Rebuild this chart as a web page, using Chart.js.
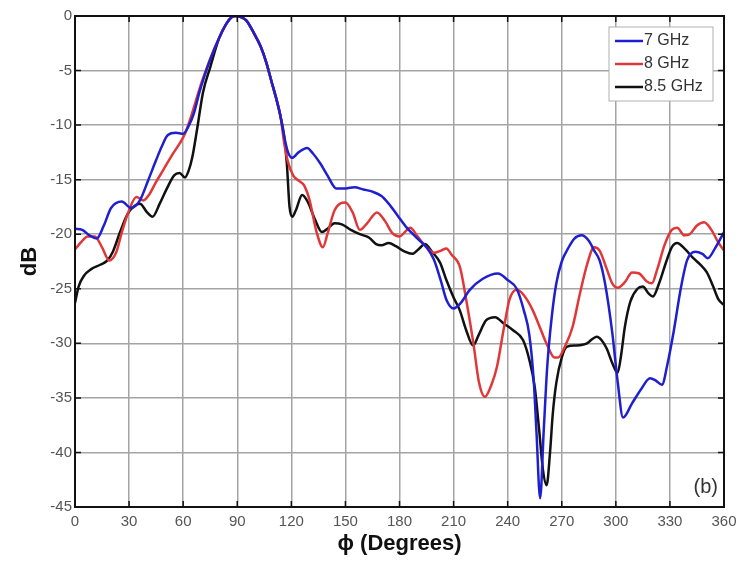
<!DOCTYPE html>
<html>
<head>
<meta charset="utf-8">
<script src="https://cdn.jsdelivr.net/npm/chart.js@4.4.1/dist/chart.umd.min.js"></script>
<style>
  html, body { margin: 0; padding: 0; background: #fff; }
  #contenedor { width: 750px; height: 562px; }
</style>
</head>
<body>
<div id="contenedor"><canvas id="grafico-patron" width="750" height="562"></canvas></div>
<script>
// Patrón de radiación en el plano phi (dB normalizados)
const phi7 = [0, 4, 8, 12, 16, 20, 26, 31, 36, 40.5, 45, 48, 51.5, 56, 60, 63, 66, 69, 72, 75, 80, 84, 87, 89, 92, 95, 99, 103, 106, 109, 112, 114, 116, 118, 120.4, 124, 128.7, 132, 136, 140, 145, 150, 155, 160, 165, 170, 174, 179, 184, 190, 195, 199, 203, 206, 210, 214, 219, 226, 234.6, 240, 245, 249, 252, 254.5, 256, 258, 260, 262, 264.5, 267, 270, 273.5, 277, 281, 285, 288, 291, 294, 298, 301, 304, 309, 314, 319, 322, 325.6, 328.5, 332, 336, 339.5, 344, 348, 351, 355, 360];
const db7 = [-19.5, -19.6, -20.1, -20.4, -19.2, -17.6, -17.0, -17.6, -16.9, -15.1, -13.2, -12.0, -10.9, -10.7, -10.8, -10.1, -8.9, -7.0, -5.4, -4.0, -2.0, -0.7, -0.1, 0, -0.1, -0.4, -1.5, -2.8, -4.2, -6.0, -7.8, -9.2, -11.0, -12.4, -13.0, -12.5, -12.1, -12.6, -13.5, -14.6, -15.8, -15.8, -15.7, -15.9, -16.1, -16.5, -17.2, -18.3, -19.4, -20.4, -21.2, -22.3, -24.3, -26.0, -26.8, -26.3, -25.1, -24.1, -23.6, -24.2, -25.0, -27.0, -29.2, -33.5, -38.2, -44.2, -38.0, -32.0, -27.5, -24.5, -22.5, -21.3, -20.4, -20.1, -20.6, -21.5, -22.4, -24.5, -29.0, -33.5, -36.8, -35.5, -34.2, -33.2, -33.4, -33.8, -32.0, -29.0, -25.0, -22.4, -21.6, -21.8, -22.2, -21.3, -19.8];

const phi8 = [0, 3, 7, 11, 15, 19, 23, 26, 30, 34, 38, 41, 45, 49, 54, 58, 61, 64, 67, 70, 73, 76, 80, 84, 87, 89, 92, 95, 99, 103, 106, 109, 112, 114, 116, 118, 121, 125, 127, 130, 134, 137.5, 140, 144, 150, 154, 158, 162, 167.5, 172, 176, 180, 186, 190, 195, 199, 203, 206, 209, 213.5, 217, 221, 224, 227.4, 231, 234, 238, 241, 245, 249, 254, 258, 262, 266, 268, 272, 276, 280, 284, 288, 291, 295, 298, 301, 305, 309, 313, 317, 320, 323, 327, 331, 334, 338, 341, 345, 349, 353, 357, 360];
const db8 = [-21.4, -20.8, -20.2, -20.2, -21.2, -22.4, -21.6, -19.8, -17.8, -16.6, -16.9, -16.4, -15.2, -14.1, -12.7, -11.7, -10.8, -9.4, -7.8, -6.2, -4.8, -3.5, -2.0, -0.7, -0.1, 0, -0.1, -0.4, -1.5, -2.8, -4.2, -6.0, -7.8, -9.2, -11.6, -13.3, -14.6, -15.2, -15.5, -16.8, -19.8, -21.2, -20.0, -17.8, -17.1, -18.0, -19.6, -19.0, -18.0, -18.8, -19.9, -20.2, -19.4, -20.2, -21.2, -21.7, -21.5, -21.3, -21.9, -23.0, -26.0, -30.0, -33.5, -34.9, -33.8, -32.2, -28.5, -26.0, -25.1, -25.6, -27.0, -28.6, -30.2, -31.3, -31.3, -30.2, -28.5, -25.5, -22.8, -21.2, -21.5, -23.2, -24.5, -24.9, -24.4, -23.5, -23.6, -24.3, -24.5, -23.2, -21.0, -19.6, -19.4, -20.1, -20.0, -19.2, -18.9, -19.6, -20.8, -21.5];

const phi85 = [0, 2, 5, 9, 14, 18, 21, 25, 29, 33, 36, 40, 43, 47, 51, 55, 58, 61, 63, 65, 67.7, 71, 75, 80, 84, 87, 89, 92, 95, 99, 103, 106, 109, 112, 114, 116, 117.5, 119, 120.5, 122.5, 126, 129, 133, 137, 140, 144, 148, 153, 158, 163, 167, 170, 174, 178, 183, 187, 191, 194, 198, 202.5, 206, 210, 213.5, 217, 220.8, 224, 228, 233, 238, 243, 248.5, 252, 255, 257.5, 259.5, 261.6, 263.5, 265, 267, 270, 273, 278, 284, 287, 289.5, 292, 295, 298, 301, 303, 305, 308, 312, 315, 318, 320.6, 324, 328, 331, 334, 338, 343, 347, 350.5, 354, 357, 360];
const db85 = [-26.3, -24.8, -23.8, -23.2, -22.8, -22.4, -21.6, -19.8, -18.2, -17.4, -17.2, -18.0, -18.4, -17.2, -15.8, -14.6, -14.4, -14.8, -14.2, -13.0, -10.4, -7.0, -4.7, -2.0, -0.7, -0.1, 0, -0.1, -0.4, -1.5, -2.8, -4.2, -6.0, -7.8, -9.2, -11.0, -13.5, -17.5, -18.4, -17.8, -16.4, -17.0, -18.6, -19.8, -19.5, -19.0, -19.1, -19.6, -20.0, -20.3, -20.9, -21.0, -20.8, -21.1, -21.6, -21.8, -21.3, -20.9, -21.6, -22.6, -24.2, -25.8, -27.0, -28.8, -30.2, -29.2, -27.9, -27.6, -28.2, -28.8, -29.7, -31.5, -34.0, -38.0, -41.5, -43.0, -40.0, -36.5, -33.6, -31.3, -30.3, -30.2, -30.0, -29.6, -29.4, -29.7, -30.5, -31.8, -32.7, -31.0, -28.5, -26.2, -25.0, -24.8, -25.4, -25.7, -24.5, -22.5, -21.2, -20.8, -21.3, -22.2, -22.8, -23.5, -24.8, -26.0, -26.5];

const etiquetas = ['7 GHz', '8 GHz', '8.5 GHz'];
const colores = ['#1f1fd0', '#e03838', '#111111'];
const ticksX = [0, 30, 60, 90, 120, 150, 180, 210, 240, 270, 300, 330, 360];
const ticksY = [0, -5, -10, -15, -20, -25, -30, -35, -40, -45];

const fuente = '"Liberation Sans", Arial, sans-serif';

function puntos(xs, ys) {
    return xs.map((x, i) => ({ x: x, y: ys[i] }));
}

// marco negro, marcas hacia dentro, leyenda y rótulo "(b)"
const marcoPlugin = {
    id: 'marco',
    afterDatasetsDraw(chart) {
        const { ctx, chartArea: a, scales: { x, y } } = chart;
        ctx.save();
        ctx.strokeStyle = '#111';
        ctx.lineWidth = 1.5;
        ctx.beginPath();
        ticksX.forEach(v => {
            const px = x.getPixelForValue(v);
            ctx.moveTo(px, a.bottom); ctx.lineTo(px, a.bottom - 6);
            ctx.moveTo(px, a.top); ctx.lineTo(px, a.top + 6);
        });
        ticksY.forEach(v => {
            const py = y.getPixelForValue(v);
            ctx.moveTo(a.left, py); ctx.lineTo(a.left + 6, py);
            ctx.moveTo(a.right, py); ctx.lineTo(a.right - 6, py);
        });
        ctx.stroke();
        ctx.lineWidth = 2;
        ctx.strokeRect(a.left, a.top, a.right - a.left, a.bottom - a.top);

        // leyenda
        const bx = a.right - 115, by = a.top + 11, bw = 104, bh = 74;
        ctx.fillStyle = '#fff';
        ctx.fillRect(bx, by, bw, bh);
        ctx.strokeStyle = '#b0b0b0';
        ctx.lineWidth = 1;
        ctx.strokeRect(bx, by, bw, bh);
        ctx.font = '16px ' + fuente;
        ctx.textBaseline = 'middle';
        ctx.textAlign = 'left';
        etiquetas.forEach((txt, i) => {
            const ly = by + 14 + i * 23;
            ctx.strokeStyle = colores[i];
            ctx.lineWidth = 2.5;
            ctx.beginPath();
            ctx.moveTo(bx + 6, ly);
            ctx.lineTo(bx + 34, ly);
            ctx.stroke();
            ctx.fillStyle = '#333';
            ctx.fillText(txt, bx + 35, ly);
        });

        ctx.font = '20px ' + fuente;
        ctx.textAlign = 'right';
        ctx.fillStyle = '#333';
        ctx.fillText('(b)', a.right - 6, a.bottom - 20);
        ctx.restore();
    }
};

const ctx = document.getElementById('grafico-patron').getContext('2d');
const grafico = new Chart(ctx, {
    type: 'line',
    data: {
        datasets: [
            { label: etiquetas[0], data: puntos(phi7, db7), borderColor: colores[0] },
            { label: etiquetas[1], data: puntos(phi8, db8), borderColor: colores[1] },
            { label: etiquetas[2], data: puntos(phi85, db85), borderColor: colores[2] }
        ]
    },
    options: {
        responsive: false,
        animation: false,
        devicePixelRatio: 1,
        layout: { padding: { top: 16, right: 26, left: 0, bottom: 0 } },
        elements: {
            point: { radius: 0 },
            line: { borderWidth: 2.5, cubicInterpolationMode: 'monotone', fill: false }
        },
        plugins: {
            legend: { display: false },
            tooltip: { enabled: false }
        },
        scales: {
            x: {
                type: 'linear',
                min: 0,
                max: 360,
                afterBuildTicks: s => { s.ticks = ticksX.map(v => ({ value: v })); },
                afterFit: s => { s.height = 55; },
                grid: { color: '#a4a4a4', lineWidth: 1.5, drawTicks: false },
                border: { display: false },
                ticks: { padding: 6, color: '#555', font: { family: fuente, size: 15 } },
                title: {
                    display: true,
                    text: 'ϕ (Degrees)',
                    color: '#111',
                    font: { family: fuente, size: 22, weight: 'bold' },
                    padding: { top: 0, bottom: 5 }
                }
            },
            y: {
                type: 'linear',
                min: -45,
                max: 0,
                afterBuildTicks: s => { s.ticks = ticksY.map(v => ({ value: v })); },
                afterFit: s => { s.width = 75; },
                grid: { color: '#a4a4a4', lineWidth: 1.5, drawTicks: false },
                border: { display: false },
                ticks: { padding: 3, color: '#555', font: { family: fuente, size: 15 } },
                title: {
                    display: true,
                    text: 'dB',
                    color: '#111',
                    font: { family: fuente, size: 22, weight: 'bold' },
                    padding: { top: 17, bottom: 0 }
                }
            }
        }
    },
    plugins: [marcoPlugin]
});
</script>
</body>
</html>
